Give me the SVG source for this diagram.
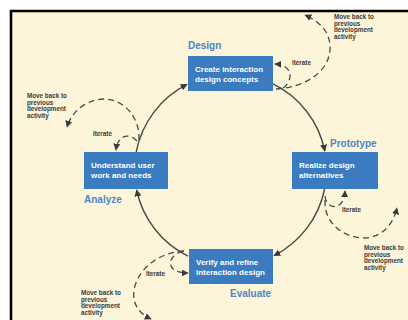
<svg xmlns="http://www.w3.org/2000/svg" width="408" height="320" viewBox="0 0 408 320">
<style>
.box{fill:#3b7bc0}
.bt{font-family:"Liberation Sans",Arial,sans-serif;font-size:8px;fill:#ffffff;font-weight:bold}
.lbl{font-family:"Liberation Sans",Arial,sans-serif;font-size:10px;font-weight:bold;fill:#4f86c6}
.sm{font-family:"Liberation Sans",Arial,sans-serif;font-size:6.3px;font-weight:bold;fill:#3a3a3a}
.arc{fill:none;stroke:#4a4a4a;stroke-width:1.4}
.dash{fill:none;stroke:#4a4a4a;stroke-width:1.3;stroke-dasharray:6 4}
</style>
<defs>
<marker id="ah" viewBox="0 0 10 10" refX="9" refY="5" markerWidth="7" markerHeight="7" markerUnits="userSpaceOnUse" orient="auto">
<path d="M0,0 L10,5 L0,10 Z" fill="#3a3a3a"/>
</marker>
</defs>
<rect x="0" y="0" width="408" height="320" fill="#ffffff"/>
<rect x="11" y="11" width="397" height="309" fill="#fcf5d9"/>
<path d="M11,320 L11,11 L408,11" fill="none" stroke="#000" stroke-width="2.6"/>
<g id="connectors">
<path class="arc" d="M136.2,152 A96,96 0 0 1 187,84.4" marker-end="url(#ah)"/>
<path class="arc" d="M272,83.4 A96,96 0 0 1 324.8,151" marker-end="url(#ah)"/>
<path class="arc" d="M324.6,189 A96,96 0 0 1 274,255.6" marker-end="url(#ah)"/>
<path class="arc" d="M188,256.1 A96,96 0 0 1 136.6,190" marker-end="url(#ah)"/>
<path class="dash" d="M276,89 C300,88 328,75 330,50 C331,32 320,22 305,15" marker-end="url(#ah)"/>
<path class="dash" d="M283,88 C294,80 293,65 275,64" marker-end="url(#ah)"/>
<path class="dash" d="M139,140 C140,118 125,100 105,99 C88,99 72,110 67,127" marker-end="url(#ah)"/>
<path class="dash" d="M137,141 C130,133 118,134 116,150" marker-end="url(#ah)"/>
<path class="dash" d="M325,196 C326,210 344,212 345,191" marker-end="url(#ah)"/>
<path class="dash" d="M325,200 C324,225 345,238 365,238 C382,237 393,225 397,208" marker-end="url(#ah)"/>
<path class="dash" d="M183,251 C166,256 165,273 188,273" marker-end="url(#ah)"/>
<path class="dash" d="M184,251 C160,252 138,268 134,290 C132,305 140,314 151,319" marker-end="url(#ah)"/>
</g>
<g id="design">
<rect class="box" x="188" y="56" width="85" height="35"/>
<text class="bt" x="195" y="71.5">Create interaction</text>
<text class="bt" x="195" y="81.5">design concepts</text>
<text class="lbl" x="188" y="49">Design</text>
</g>
<g id="prototype">
<rect class="box" x="292" y="152" width="86" height="37"/>
<text class="bt" x="299" y="168">Realize design</text>
<text class="bt" x="299" y="178">alternatives</text>
<text class="lbl" x="330" y="147">Prototype</text>
</g>
<g id="analyze">
<rect class="box" x="84" y="152" width="84" height="37"/>
<text class="bt" x="91" y="168">Understand user</text>
<text class="bt" x="91" y="178">work and needs</text>
<text class="lbl" x="84" y="203">Analyze</text>
</g>
<g id="evaluate">
<rect class="box" x="189" y="249" width="84" height="35"/>
<text class="bt" x="196" y="264.5">Verify and refine</text>
<text class="bt" x="196" y="274.5">interaction design</text>
<text class="lbl" x="230" y="297">Evaluate</text>
</g>
<g id="notes">
<text class="sm" x="292" y="65">Iterate</text>
<text class="sm" x="93" y="136">Iterate</text>
<text class="sm" x="342" y="212">Iterate</text>
<text class="sm" x="146" y="276">Iterate</text>
<text class="sm" x="334" y="19">Move back to</text>
<text class="sm" x="334" y="25.5">previous</text>
<text class="sm" x="334" y="32">development</text>
<text class="sm" x="334" y="38.5">activity</text>
<text class="sm" x="27" y="98">Move back to</text>
<text class="sm" x="27" y="104.5">previous</text>
<text class="sm" x="27" y="111">development</text>
<text class="sm" x="27" y="117.5">activity</text>
<text class="sm" x="364" y="250">Move back to</text>
<text class="sm" x="364" y="256.5">previous</text>
<text class="sm" x="364" y="263">development</text>
<text class="sm" x="364" y="269.5">activity</text>
<text class="sm" x="81" y="295">Move back to</text>
<text class="sm" x="81" y="301.5">previous</text>
<text class="sm" x="81" y="308">development</text>
<text class="sm" x="81" y="314.5">activity</text>
</g>
</svg>
